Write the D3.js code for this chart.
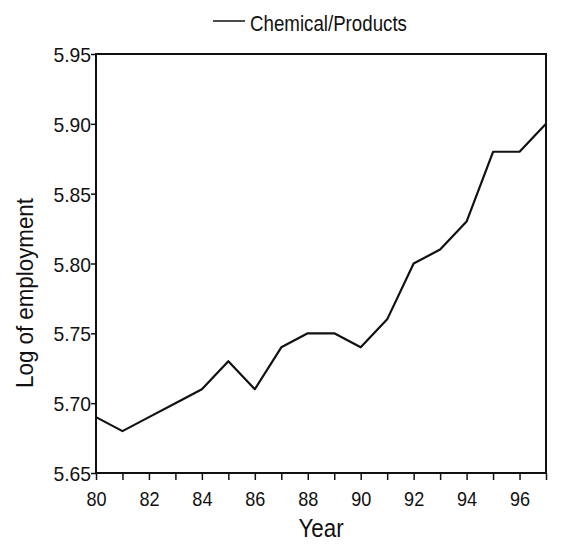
<!DOCTYPE html>
<html>
<head>
<meta charset="utf-8">
<script src="https://cdn.jsdelivr.net/npm/d3@7"></script>
<style>
  body { margin: 0; background: #fff; }
  svg text { font-family: "Liberation Sans", Arial, sans-serif; fill: #111; }
</style>
</head>
<body>
<div id="chart"></div>
<script>
const years = [80, 81, 82, 83, 84, 85, 86, 87, 88, 89, 90, 91, 92, 93, 94, 95, 96, 97];
const logEmployment = [5.69, 5.68, 5.69, 5.70, 5.71, 5.73, 5.71, 5.74, 5.75, 5.75, 5.74, 5.76, 5.80, 5.81, 5.83, 5.88, 5.88, 5.90];
const yTicks = [5.65, 5.70, 5.75, 5.80, 5.85, 5.90, 5.95];
const xLabels = [80, 82, 84, 86, 88, 90, 92, 94, 96];
const seriesName = "Chemical/Products";

const W = 563, H = 546;
const margin = { top: 54, right: 17, bottom: 73, left: 96 };

const svg = d3.select("#chart").append("svg")
    .attr("width", W)
    .attr("height", H);

const x = d3.scaleLinear()
    .domain([80, 97])
    .range([margin.left, W - margin.right]);

const y = d3.scaleLinear()
    .domain([5.65, 5.95])
    .range([H - margin.bottom, margin.top]);

// the original font is a narrow sans, so squeeze the glyphs a little
function narrow(sel, k) {
    sel.each(function () {
        const w = this.getComputedTextLength();
        if (w > 0) d3.select(this).attr("textLength", w * k).attr("lengthAdjust", "spacingAndGlyphs");
    });
}

// x axis: a tick every year, a label every other year
const xAxis = svg.append("g")
    .attr("transform", `translate(0,${H - margin.bottom})`)
    .call(d3.axisBottom(x)
        .tickValues(years)
        .tickSize(7)
        .tickFormat(d => xLabels.includes(d) ? d : ""));
xAxis.select(".domain").remove();
xAxis.selectAll("line").attr("stroke", "#111").attr("stroke-width", 1.5);
xAxis.selectAll("text")
    .attr("dy", null)
    .attr("y", 33)
    .style("font-size", "21px")
    .call(narrow, 0.86);

const yAxis = svg.append("g")
    .attr("transform", `translate(${margin.left},0)`)
    .call(d3.axisLeft(y)
        .tickValues(yTicks)
        .tickSize(5)
        .tickPadding(0)
        .tickFormat(d3.format(".2f")));
yAxis.select(".domain").remove();
yAxis.selectAll("line").attr("stroke", "#111").attr("stroke-width", 1.5);
yAxis.selectAll("text")
    .attr("dy", "0.36em")
    .style("font-size", "21px")
    .call(narrow, 0.92);

// frame
svg.append("rect")
    .attr("x", x(80))
    .attr("y", y(5.95))
    .attr("width", x(97) - x(80))
    .attr("height", y(5.65) - y(5.95))
    .attr("fill", "none")
    .attr("stroke", "#111")
    .attr("stroke-width", 2);

const line = d3.line()
    .x((d, i) => x(years[i]))
    .y(d => y(d));

svg.append("path")
    .datum(logEmployment)
    .attr("d", line)
    .attr("fill", "none")
    .attr("stroke", "#111")
    .attr("stroke-width", 2.2)
    .attr("stroke-linejoin", "round");

// axis titles
svg.append("text")
    .attr("x", (x(80) + x(97)) / 2)
    .attr("y", 537)
    .attr("text-anchor", "middle")
    .style("font-size", "26px")
    .text("Year")
    .call(narrow, 0.86);

svg.append("text")
    .attr("transform", `translate(33,293) rotate(-90)`)
    .attr("text-anchor", "middle")
    .style("font-size", "24px")
    .text("Log of employment")
    .call(narrow, 0.93);

// legend
svg.append("line")
    .attr("x1", 213).attr("x2", 245)
    .attr("y1", 21).attr("y2", 21)
    .attr("stroke", "#111")
    .attr("stroke-width", 1.5);

svg.append("text")
    .attr("x", 250)
    .attr("y", 31)
    .style("font-size", "22px")
    .text(seriesName)
    .call(narrow, 0.85);
</script>
</body>
</html>
